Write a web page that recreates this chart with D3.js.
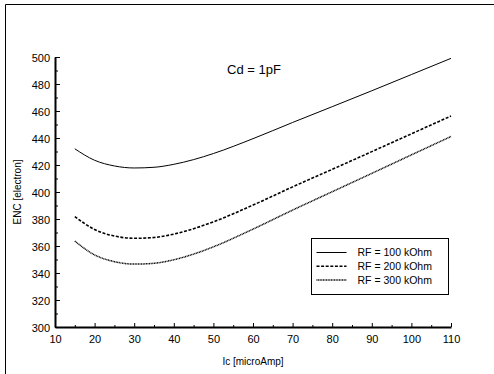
<!DOCTYPE html>
<html>
<head>
<meta charset="utf-8">
<script src="https://cdn.jsdelivr.net/npm/d3@7"></script>
<style>
  body { margin: 0; background: #fff; }
  svg { display: block; font-family: "Liberation Sans", Arial, sans-serif; }
</style>
</head>
<body>
<div id="chart"></div>
<script>
// Values
const ic = [15, 20, 25, 30, 35, 40, 45, 50, 60, 70, 80, 90, 100, 110];
const enc100 = [432, 423.5, 419.3, 417.8, 418.3, 420.5, 424, 428.5, 439.5, 451.5, 463.2, 475, 487, 499];
const enc200 = [381.8, 372.2, 367.4, 365.7, 366.3, 368.8, 372.8, 377.9, 390.3, 403.8, 416.8, 429.9, 443.1, 456.3];
const enc300 = [363.6, 353.4, 348.4, 346.6, 347.2, 349.8, 354.0, 359.4, 372.5, 386.6, 400.2, 413.8, 427.5, 441.1];
const seriesNames = ["RF = 100 kOhm", "RF = 200 kOhm", "RF = 300 kOhm"];
const xTicks = [10, 20, 30, 40, 50, 60, 70, 80, 90, 100, 110];
const yTicks = [300, 320, 340, 360, 380, 400, 420, 440, 460, 480, 500];

const width = 494, height = 374;
const margin = {left: 55, right: 43, top: 57, bottom: 47};

const svg = d3.select("#chart").append("svg")
  .attr("width", width)
  .attr("height", height);

// outer frame (left + top only)
svg.append("path")
  .attr("d", `M5.5,${height} V4.5 H${width}`)
  .attr("fill", "none")
  .attr("stroke", "#000")
  .attr("stroke-width", 1);

const x = d3.scaleLinear()
  .domain([10, 110])
  .range([margin.left, width - margin.right]);

const y = d3.scaleLinear()
  .domain([300, 500])
  .range([height - margin.bottom, margin.top]);

// minor ticks first, then major ticks with labels
const xMinor = d3.range(15, 110, 10);
const yMinor = d3.range(310, 500, 20);

svg.append("g")
  .attr("transform", `translate(0,${y(300)})`)
  .call(d3.axisTop(x).tickValues(xMinor).tickSize(2).tickFormat(""))
  .call(g => g.select(".domain").remove());

svg.append("g")
  .attr("transform", `translate(${x(10)},0)`)
  .call(d3.axisRight(y).tickValues(yMinor).tickSize(3).tickFormat(""))
  .call(g => g.select(".domain").remove());

const xAxis = svg.append("g")
  .attr("transform", `translate(0,${y(300)})`)
  .call(d3.axisTop(x).tickValues(xTicks).tickSize(4).tickSizeOuter(0).tickFormat(d3.format("d")));
xAxis.select(".domain").attr("stroke-width", 2);
xAxis.selectAll(".tick text")
  .attr("y", 16)
  .attr("dy", 0)
  .attr("font-size", 11)
  .attr("fill", "#000");

const yAxis = svg.append("g")
  .attr("transform", `translate(${x(10)},0)`)
  .call(d3.axisRight(y).tickValues(yTicks).tickSize(5).tickSizeOuter(0).tickFormat(d3.format("d")));
yAxis.select(".domain").attr("stroke-width", 2);
yAxis.selectAll(".tick text")
  .attr("x", -5)
  .attr("dy", "0.45em")
  .attr("text-anchor", "end")
  .attr("font-size", 11)
  .attr("fill", "#000");

svg.selectAll(".tick line").attr("stroke", "#000").attr("stroke-width", 1);
svg.selectAll(".domain").attr("stroke", "#000");

// axis titles
svg.append("text")
  .attr("x", (x(10) + x(110)) / 2)
  .attr("y", 365)
  .attr("text-anchor", "middle")
  .attr("font-size", 10)
  .text("Ic [microAmp]");

svg.append("text")
  .attr("transform", `translate(21,${(y(300) + y(500)) / 2}) rotate(-90)`)
  .attr("text-anchor", "middle")
  .attr("font-size", 10)
  .text("ENC [electron]");

svg.append("text")
  .attr("x", 254)
  .attr("y", 74)
  .attr("text-anchor", "middle")
  .attr("font-size", 13)
  .text("Cd = 1pF");

// curves
const styles = [
  {dash: null, w: 1},
  {dash: "3,1.6", w: 1.6},
  {dash: "1,0.6", w: 1.5}
];
const series = [enc100, enc200, enc300].map((vals, i) => ({
  name: seriesNames[i],
  style: styles[i],
  points: ic.map((c, j) => ({x: c, y: vals[j]}))
}));

const line = d3.line()
  .curve(d3.curveMonotoneX)
  .x(d => x(d.x))
  .y(d => y(d.y));

svg.append("g")
  .selectAll("path")
  .data(series)
  .join("path")
  .attr("fill", "none")
  .attr("stroke", "#000")
  .attr("stroke-width", d => d.style.w)
  .attr("stroke-dasharray", d => d.style.dash)
  .attr("d", d => line(d.points));

// legend
const legend = svg.append("g").attr("transform", "translate(311.5,238.5)");
legend.append("rect")
  .attr("width", 137)
  .attr("height", 56)
  .attr("fill", "#fff")
  .attr("stroke", "#000")
  .attr("stroke-width", 1);

const items = legend.selectAll("g.item")
  .data(series)
  .join("g")
  .attr("class", "item")
  .attr("transform", (d, i) => `translate(0,${14 + i * 13.7})`);

items.append("line")
  .attr("x1", 5).attr("x2", 35)
  .attr("stroke", "#000")
  .attr("stroke-width", d => d.style.w)
  .attr("stroke-dasharray", d => d.style.dash);

items.append("text")
  .attr("x", 46)
  .attr("dy", "0.35em")
  .attr("font-size", 10.5)
  .text(d => d.name);
</script>
</body>
</html>
